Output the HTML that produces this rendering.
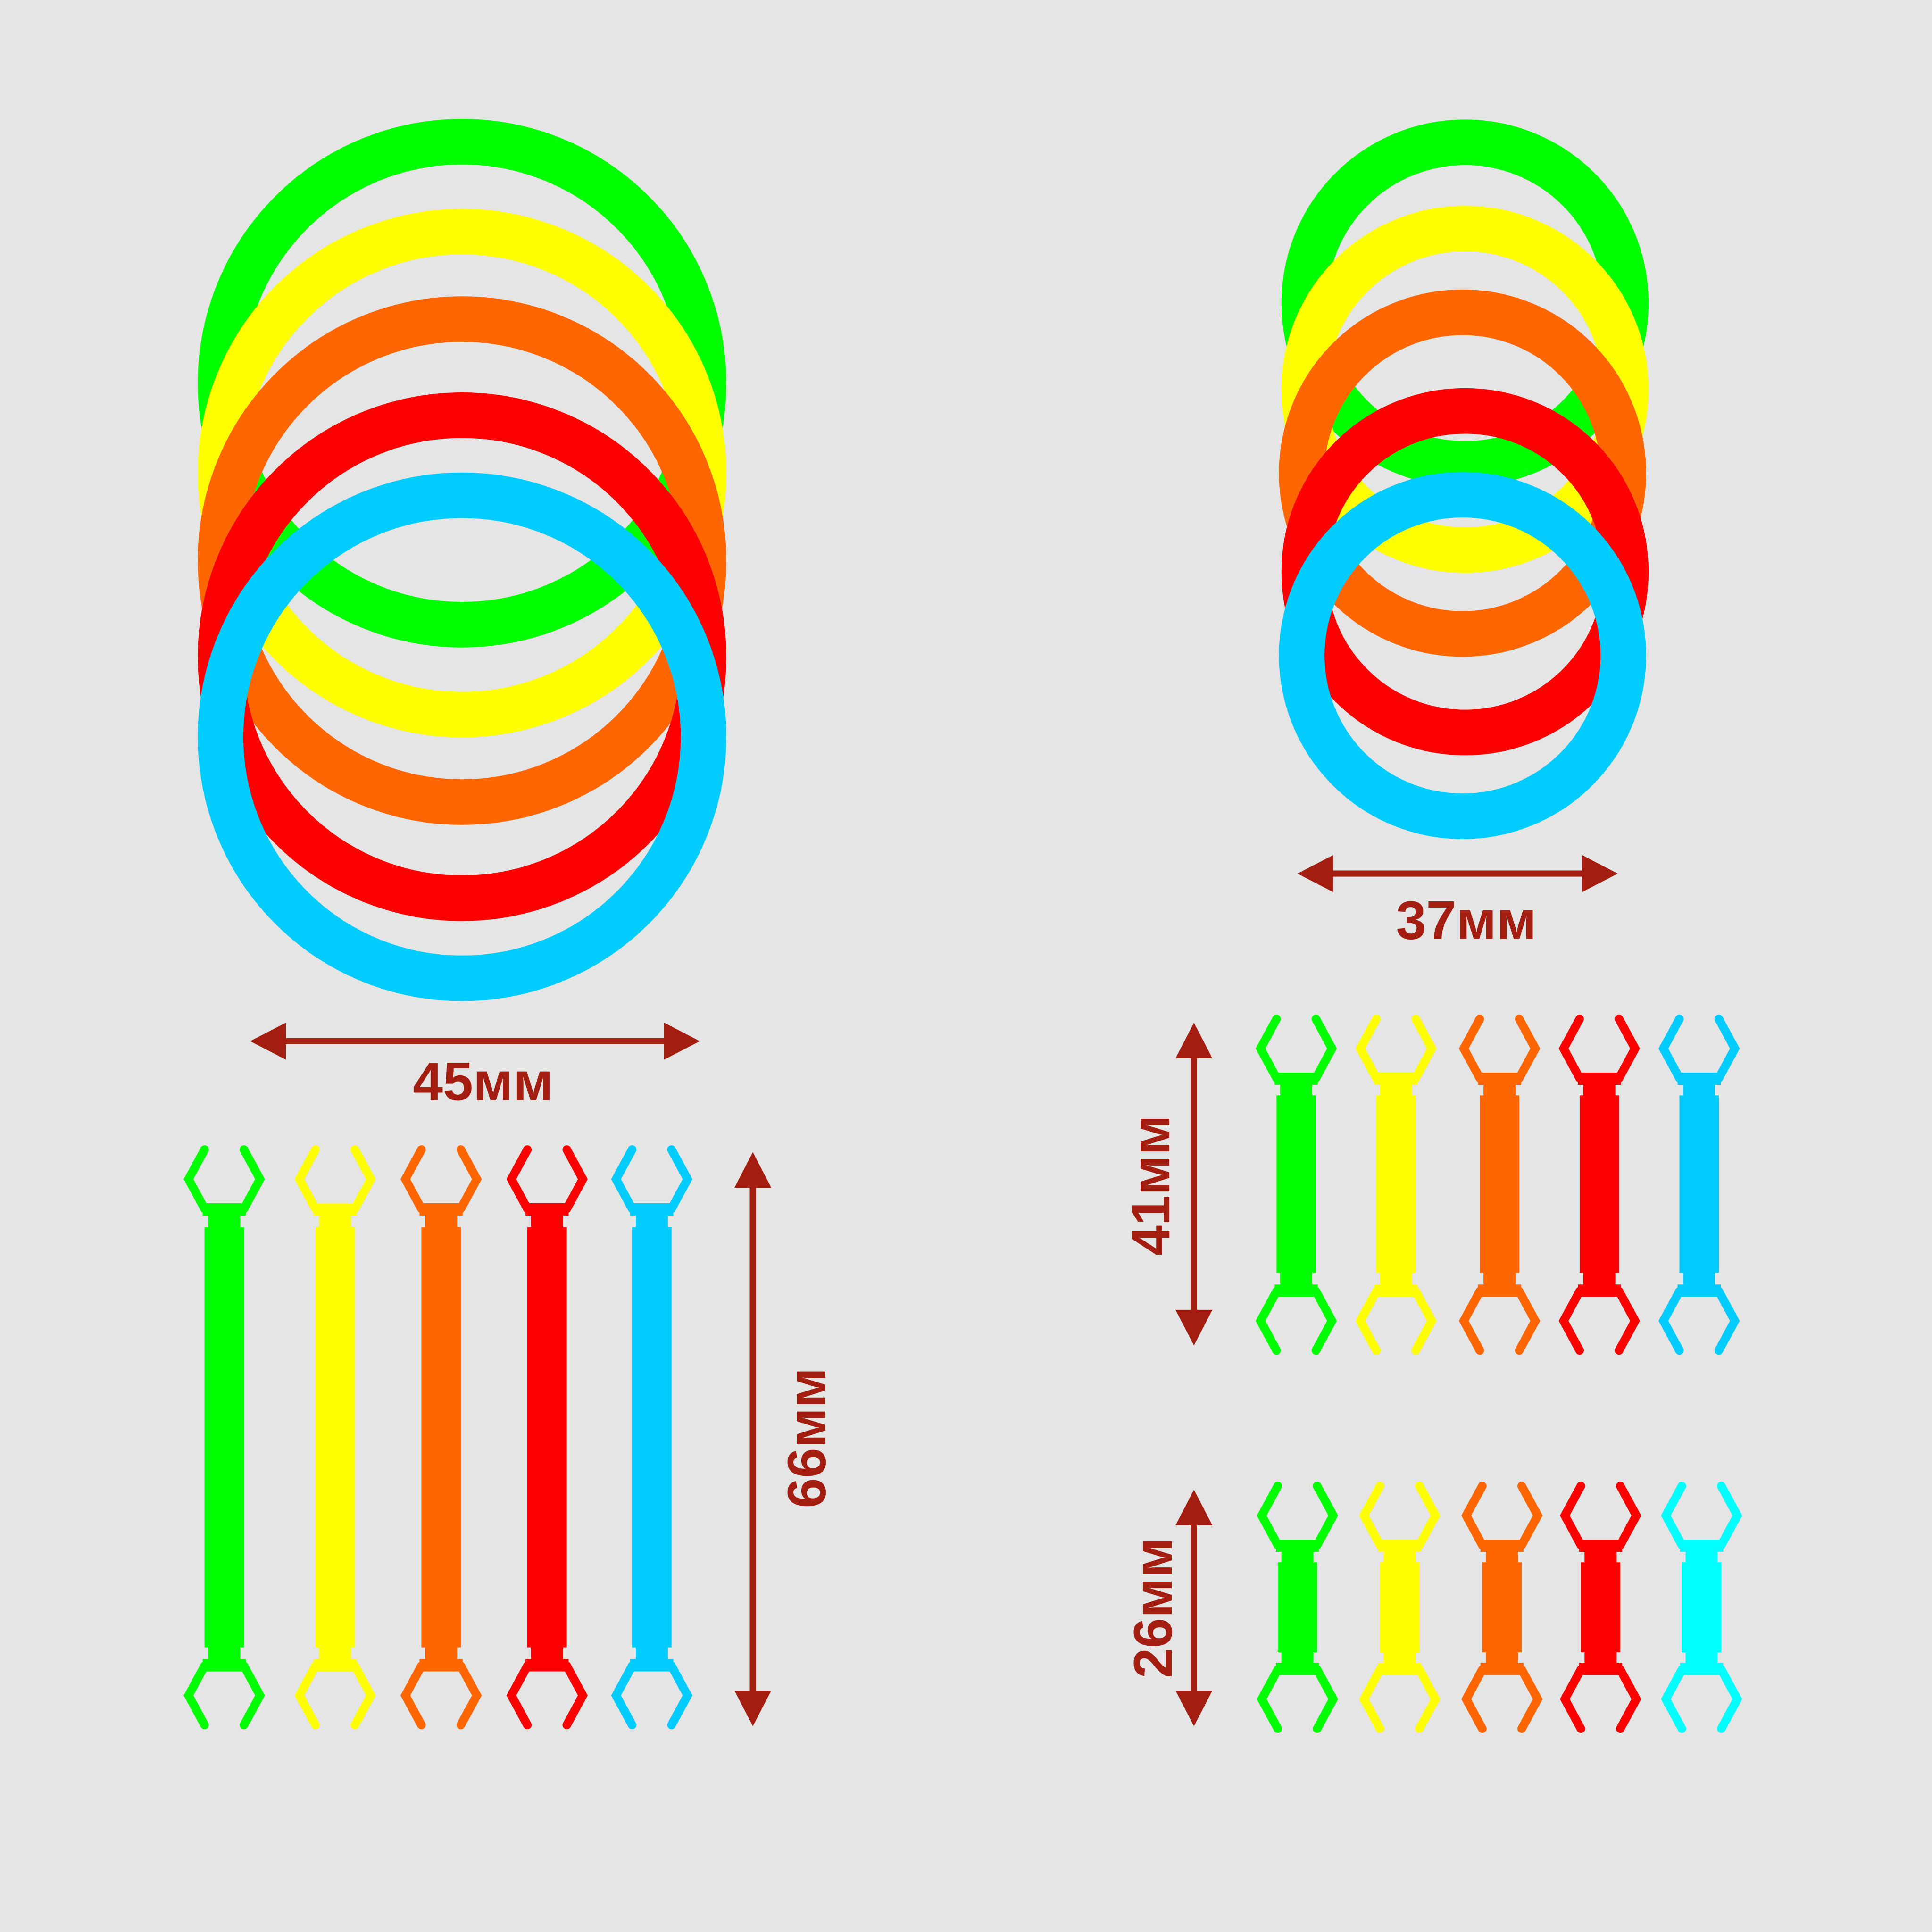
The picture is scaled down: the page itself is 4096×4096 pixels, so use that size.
<!DOCTYPE html>
<html><head><meta charset="utf-8"><style>
html,body{margin:0;padding:0;background:#e5e5e5}
svg{display:block}
text{font-family:"Comic Sans MS","Liberation Sans",sans-serif;font-weight:bold;fill:#a31e10;font-size:44px}
</style></head><body>
<svg width="4096" height="4096" viewBox="0 0 1568 1568" xmlns="http://www.w3.org/2000/svg">
<defs>
<g id="end">
<polyline points="-16,3 -29,27 -16,51" fill="none" stroke-width="7" stroke-linecap="round" stroke-linejoin="miter"/>
<polyline points="16,3 29,27 16,51" fill="none" stroke-width="7" stroke-linecap="round" stroke-linejoin="miter"/>
<rect x="-17" y="47" width="34" height="9"/>
<rect x="-12.5" y="55" width="25" height="12"/>
</g>
</defs>
<rect width="1568" height="1568" fill="#e5e5e5"/>
<g fill="none" stroke-width="37">
<circle cx="375" cy="311" r="196" stroke="#00ff00"/>
<circle cx="375" cy="384" r="196" stroke="#ffff00"/>
<circle cx="375" cy="455" r="196" stroke="#ff6600"/>
<circle cx="375" cy="533" r="196" stroke="#ff0000"/>
<circle cx="375" cy="598" r="196" stroke="#00ccff"/>
</g>
<g fill="none" stroke-width="37">
<circle cx="1189" cy="246" r="130.5" stroke="#00ff00"/>
<circle cx="1189" cy="316" r="130.5" stroke="#ffff00"/>
<circle cx="1187" cy="384" r="130.5" stroke="#ff6600"/>
<circle cx="1189" cy="464" r="130.5" stroke="#ff0000"/>
<circle cx="1187" cy="532" r="130.5" stroke="#00ccff"/>
</g>
<g fill="#a31e10" stroke="#a31e10">
<line x1="228" y1="845" x2="543" y2="845" stroke-width="5"/>
<polygon points="203,845 232,830 232,860" stroke="none"/>
<polygon points="568,845 539,830 539,860" stroke="none"/>
<line x1="1078" y1="709" x2="1288" y2="709" stroke-width="5"/>
<polygon points="1053,709 1082,694 1082,724" stroke="none"/>
<polygon points="1313,709 1284,694 1284,724" stroke="none"/>
<line x1="611" y1="960" x2="611" y2="1376" stroke-width="5"/>
<polygon points="611,935 596,964 626,964" stroke="none"/>
<polygon points="611,1401 596,1372 626,1372" stroke="none"/>
<line x1="969" y1="855" x2="969" y2="1067" stroke-width="5"/>
<polygon points="969,830 954,859 984,859" stroke="none"/>
<polygon points="969,1092 954,1063 984,1063" stroke="none"/>
<line x1="969" y1="1234" x2="969" y2="1376" stroke-width="5"/>
<polygon points="969,1209 954,1238 984,1238" stroke="none"/>
<polygon points="969,1401 954,1372 984,1372" stroke="none"/>
</g>
<text x="392" y="893" text-anchor="middle">45мм</text>
<text x="1190" y="762" text-anchor="middle">37мм</text>
<text transform="translate(670,1167) rotate(-90)" text-anchor="middle">66мм</text>
<text transform="translate(949,962) rotate(-90)" text-anchor="middle">41мм</text>
<text transform="translate(951,1305) rotate(-90)" text-anchor="middle">26мм</text>
<g fill="#00ff00" stroke="#00ff00"><use href="#end" transform="translate(182,930)"/><use href="#end" transform="translate(182,1403) scale(1,-1)"/><rect x="166" y="996" width="32" height="341" stroke="none"/></g>
<g fill="#ffff00" stroke="#ffff00"><use href="#end" transform="translate(272,930)"/><use href="#end" transform="translate(272,1403) scale(1,-1)"/><rect x="256" y="996" width="32" height="341" stroke="none"/></g>
<g fill="#ff6600" stroke="#ff6600"><use href="#end" transform="translate(358,930)"/><use href="#end" transform="translate(358,1403) scale(1,-1)"/><rect x="342" y="996" width="32" height="341" stroke="none"/></g>
<g fill="#ff0000" stroke="#ff0000"><use href="#end" transform="translate(444,930)"/><use href="#end" transform="translate(444,1403) scale(1,-1)"/><rect x="428" y="996" width="32" height="341" stroke="none"/></g>
<g fill="#00ccff" stroke="#00ccff"><use href="#end" transform="translate(529,930)"/><use href="#end" transform="translate(529,1403) scale(1,-1)"/><rect x="513" y="996" width="32" height="341" stroke="none"/></g>
<g fill="#00ff00" stroke="#00ff00"><use href="#end" transform="translate(1052,824)"/><use href="#end" transform="translate(1052,1099) scale(1,-1)"/><rect x="1036" y="889" width="32" height="144" stroke="none"/></g>
<g fill="#ffff00" stroke="#ffff00"><use href="#end" transform="translate(1133,824)"/><use href="#end" transform="translate(1133,1099) scale(1,-1)"/><rect x="1117" y="889" width="32" height="144" stroke="none"/></g>
<g fill="#ff6600" stroke="#ff6600"><use href="#end" transform="translate(1217,824)"/><use href="#end" transform="translate(1217,1099) scale(1,-1)"/><rect x="1201" y="889" width="32" height="144" stroke="none"/></g>
<g fill="#ff0000" stroke="#ff0000"><use href="#end" transform="translate(1298,824)"/><use href="#end" transform="translate(1298,1099) scale(1,-1)"/><rect x="1282" y="889" width="32" height="144" stroke="none"/></g>
<g fill="#00ccff" stroke="#00ccff"><use href="#end" transform="translate(1379,824)"/><use href="#end" transform="translate(1379,1099) scale(1,-1)"/><rect x="1363" y="889" width="32" height="144" stroke="none"/></g>
<g fill="#00ff00" stroke="#00ff00"><use href="#end" transform="translate(1053,1203)"/><use href="#end" transform="translate(1053,1406) scale(1,-1)"/><rect x="1037" y="1268" width="32" height="73" stroke="none"/></g>
<g fill="#ffff00" stroke="#ffff00"><use href="#end" transform="translate(1136,1203)"/><use href="#end" transform="translate(1136,1406) scale(1,-1)"/><rect x="1120" y="1268" width="32" height="73" stroke="none"/></g>
<g fill="#ff6600" stroke="#ff6600"><use href="#end" transform="translate(1219,1203)"/><use href="#end" transform="translate(1219,1406) scale(1,-1)"/><rect x="1203" y="1268" width="32" height="73" stroke="none"/></g>
<g fill="#ff0000" stroke="#ff0000"><use href="#end" transform="translate(1299,1203)"/><use href="#end" transform="translate(1299,1406) scale(1,-1)"/><rect x="1283" y="1268" width="32" height="73" stroke="none"/></g>
<g fill="#00ffff" stroke="#00ffff"><use href="#end" transform="translate(1381,1203)"/><use href="#end" transform="translate(1381,1406) scale(1,-1)"/><rect x="1365" y="1268" width="32" height="73" stroke="none"/></g>
</svg>
</body></html>
